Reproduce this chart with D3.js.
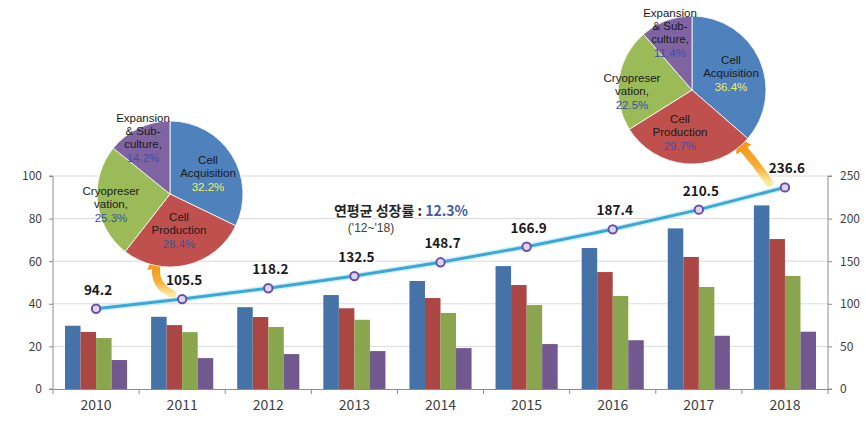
<!DOCTYPE html>
<html>
<head>
<meta charset="utf-8">
<script src="https://cdn.jsdelivr.net/npm/d3@7"></script>
<style>
  html, body { margin: 0; padding: 0; background: #fff; }
  svg { display: block; font-family: "Noto Sans CJK KR", "Noto Sans", sans-serif; }
</style>
</head>
<body>
<svg id="chart" width="866" height="433"></svg>
<script>
// ---------- data ----------
const years = ["2010","2011","2012","2013","2014","2015","2016","2017","2018"];
const seriesNames = ["Cell Acquisition","Cell Production","Cryopreservation","Expansion & Sub-culture"];
const cellAcquisition = [29.7, 33.9, 38.4, 44.1, 50.7, 57.7, 66.2, 75.4, 86.2];
const cellProduction  = [26.8, 30.0, 33.8, 37.9, 42.7, 48.8, 54.9, 62.0, 70.4];
const cryopreservation = [23.9, 26.7, 29.1, 32.5, 35.7, 39.4, 43.7, 47.9, 53.1];
const expansion        = [13.6, 14.5, 16.4, 17.8, 19.2, 21.1, 22.9, 25.0, 26.9];
const marketTotal = [94.2, 105.5, 118.2, 132.5, 148.7, 166.9, 187.4, 210.5, 236.6];
const leftTicks = [0, 20, 40, 60, 80, 100];
const rightTicks = [0, 50, 100, 150, 200, 250];
const pie2012 = [32.2, 28.4, 25.3, 14.2];
const pie2018 = [36.4, 29.7, 22.5, 11.4];
const pieLabelLines = [["Cell","Acquisition"],["Cell","Production"],["Cryopreser","vation,"],["Expansion","& Sub-","culture,"]];
const cagrLabel = "연평균 성장률 : ";
const cagrValue = "12.3%";
const cagrPeriod = "('12~'18)";

// ---------- setup ----------
const svg = d3.select("#chart");
const barColors = ["#4572a7", "#aa4643", "#89a54e", "#71588f"];
const pieColors = ["#4f81bd", "#c0504d", "#9bbb59", "#8064a2"];
const pL = 53, pR = 828, pT = 176, pB = 389;

const x0 = d3.scaleBand().domain(years).range([pL, pR]).padding(0);
const step = x0.step();
const x1 = d3.scaleBand().domain(d3.range(4)).range([12, step - 12]).padding(0);
const yL = d3.scaleLinear().domain([0, 100]).range([pB, pT]);
const yR = d3.scaleLinear().domain([0, 250]).range([pB, pT]);
const barSeries = [cellAcquisition, cellProduction, cryopreservation, expansion];

// gridlines
svg.append("g").selectAll("line").data(leftTicks.filter(d => d > 0)).join("line")
  .attr("x1", pL).attr("x2", pR)
  .attr("y1", d => yL(d)).attr("y2", d => yL(d))
  .attr("stroke", "#d9d9d9").attr("stroke-width", 1);

// bars
const groups = svg.append("g").selectAll("g").data(years).join("g")
  .attr("transform", d => `translate(${x0(d)},0)`);
groups.selectAll("rect").data((d, i) => barSeries.map((s, k) => ({k, v: s[i]}))).join("rect")
  .attr("x", d => x1(d.k)).attr("width", x1.bandwidth())
  .attr("y", d => yL(d.v)).attr("height", d => pB - yL(d.v))
  .attr("fill", d => barColors[d.k]);

// axes
const axisColor = "#8c8c8c";
const gL = svg.append("g").attr("transform", `translate(${pL},0)`)
  .call(d3.axisLeft(yL).tickValues(leftTicks).tickSize(4).tickPadding(7));
const gR = svg.append("g").attr("transform", `translate(${pR},0)`)
  .call(d3.axisRight(yR).tickValues(rightTicks).tickSize(4).tickPadding(8));
const gB = svg.append("g").attr("transform", `translate(0,${pB})`)
  .call(d3.axisBottom(x0).tickSize(0).tickPadding(14));
[gL, gR, gB].forEach(g => {
  g.select(".domain").attr("stroke", axisColor);
  g.selectAll(".tick line").attr("stroke", axisColor);
  g.selectAll("text").attr("fill", "#404040").style("font-family", "'Noto Sans CJK KR', sans-serif");
});
gL.selectAll("text").style("font-size", "12px");
gR.selectAll("text").style("font-size", "12px");
gB.selectAll("text").style("font-size", "14px").attr("dy", "0.5em");
gL.select(".domain").attr("d", `M-4,${pT}H0V${pB}H-4`);
gR.select(".domain").attr("d", `M4,${pT}H0V${pB}H4`);
// category boundary ticks on bottom
svg.append("g").selectAll("line").data(d3.range(years.length + 1)).join("line")
  .attr("x1", i => pL + step * i).attr("x2", i => pL + step * i)
  .attr("y1", pB).attr("y2", pB + 5).attr("stroke", axisColor);

// line series
const cx = d => x0(d) + step / 2;
const lineGen = d3.line().x((d, i) => cx(years[i])).y(d => yR(d));
svg.append("path").datum(marketTotal).attr("d", lineGen)
  .attr("fill", "none").attr("stroke", "#bfe4f2").attr("stroke-width", 6).attr("opacity", 0.6);
svg.append("path").datum(marketTotal).attr("d", lineGen)
  .attr("fill", "none").attr("stroke", "#3aa8d6").attr("stroke-width", 3);
svg.append("g").selectAll("circle").data(marketTotal).join("circle")
  .attr("cx", (d, i) => cx(years[i])).attr("cy", d => yR(d)).attr("r", 4.2)
  .attr("fill", "#dcd4f2").attr("stroke", "#6a4ea6").attr("stroke-width", 2);
svg.append("g").selectAll("text").data(marketTotal).join("text")
  .attr("x", (d, i) => cx(years[i]) + 2).attr("y", d => yR(d) - 14)
  .attr("text-anchor", "middle").attr("font-size", "13.5px").attr("font-weight", "bold")
  .attr("fill", "#1a1a1a").attr("stroke", "#fff").attr("stroke-width", 3).attr("paint-order", "stroke")
  .text(d => d.toFixed(1));

// CAGR annotation
const cagr = svg.append("text").attr("x", 401).attr("y", 216).attr("text-anchor", "middle")
  .attr("font-size", "14px").attr("font-weight", "bold")
  .attr("stroke", "#fff").attr("stroke-width", 3).attr("paint-order", "stroke");
cagr.append("tspan").attr("fill", "#262626").text(cagrLabel);
cagr.append("tspan").attr("fill", "#3f5ea8").text(cagrValue);
svg.append("text").attr("x", 371).attr("y", 232).attr("text-anchor", "middle")
  .style("font-family", "'Liberation Sans', Arial, sans-serif")
  .attr("font-size", "12px").attr("fill", "#404040").text(cagrPeriod);

// arrows (anchored to the line points)
const defs = svg.append("defs");
const grad = defs.append("linearGradient").attr("id", "arrowGrad").attr("x1", "0").attr("y1", "1").attr("x2", "0").attr("y2", "0");
grad.append("stop").attr("offset", "0%").attr("stop-color", "#fde9a0");
grad.append("stop").attr("offset", "45%").attr("stop-color", "#f7b03a");
grad.append("stop").attr("offset", "100%").attr("stop-color", "#f39a1f");

function drawArrow(tip, headBase, ctrl, tail) {
  svg.append("path")
    .attr("d", `M${tail[0]},${tail[1]} Q${ctrl[0]},${ctrl[1]} ${headBase[0]},${headBase[1]}`)
    .attr("fill", "none").attr("stroke", "url(#arrowGrad)").attr("stroke-width", 8).attr("stroke-linecap", "round");
  const dx = tip[0] - headBase[0], dy = tip[1] - headBase[1];
  const len = Math.hypot(dx, dy), nx = -dy / len, ny = dx / len, w = 9;
  svg.append("path")
    .attr("d", `M${tip[0]},${tip[1]} L${headBase[0] + nx * w},${headBase[1] + ny * w} L${headBase[0] - nx * w},${headBase[1] - ny * w} Z`)
    .attr("fill", "#f39a1f");
}
{
  const px = cx("2011"), py = yR(marketTotal[1]);
  drawArrow([px - 29, py - 45], [px - 26, py - 31], [px - 28, py - 14], [px - 10, py - 5]);
  const qx = cx("2018"), qy = yR(marketTotal[8]);
  drawArrow([qx - 49, qy - 50], [qx - 41, qy - 38], [qx - 27, qy - 22], [qx - 16, qy - 5]);
}

// pies
function drawPie(cxp, cyp, r, values, labelPos, acqPctColor) {
  const pie = d3.pie().sort(null).value(d => d)(values);
  const arc = d3.arc().innerRadius(0).outerRadius(r);
  const g = svg.append("g").attr("transform", `translate(${cxp},${cyp})`);
  g.selectAll("path").data(pie).join("path").attr("d", arc)
    .attr("fill", (d, i) => pieColors[i]).attr("stroke", "#ffffff").attr("stroke-width", 0.8);
  labelPos.forEach((p, i) => {
    const t = svg.append("text").attr("x", p[0]).attr("y", p[1]).attr("text-anchor", "middle")
      .style("font-family", "'Liberation Sans', Arial, sans-serif")
      .attr("font-size", "11.5px");
    pieLabelLines[i].forEach((ln, j) => {
      t.append("tspan").attr("x", p[0]).attr("dy", j === 0 ? 0 : 13).attr("fill", "#1a1a1a").text(ln);
    });
    t.append("tspan").attr("x", p[0]).attr("dy", 13.5)
      .attr("fill", i === 0 ? acqPctColor : "#3d4fa6").text(values[i].toFixed(1) + "%");
  });
}
drawPie(170, 194, 73, pie2012, [[208, 164], [179, 221], [111, 195], [143, 122]], "#f0f060");
drawPie(692, 90, 74, pie2018, [[731, 64], [680, 123], [632, 82], [670, 17]], "#f0f060");
</script>
</body>
</html>
